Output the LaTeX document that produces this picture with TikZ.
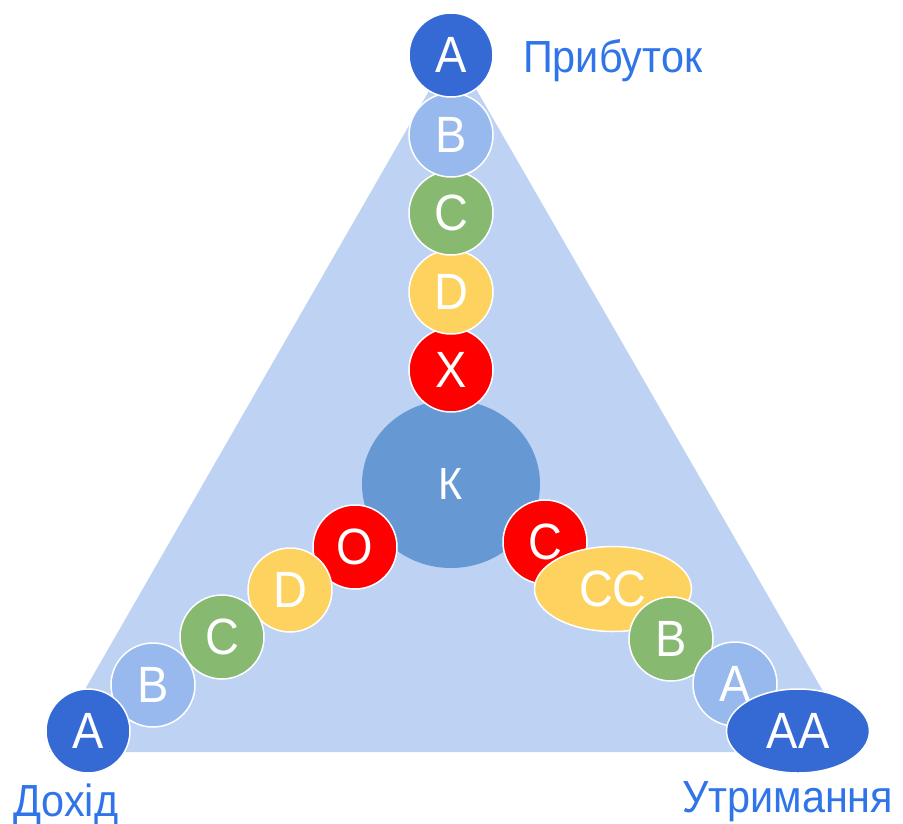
\documentclass[tikz,border=0pt]{standalone}
\usepackage{fontspec}
\setmainfont{Liberation Sans}
\newfontfamily\narrowsans[FakeStretch=0.92]{Liberation Sans}
\usetikzlibrary{shapes.geometric}

\definecolor{trifill}{HTML}{BED2F3}
\definecolor{corecol}{HTML}{6699D4}
\definecolor{darkblue}{HTML}{356AD5}
\definecolor{lightblue}{HTML}{98B9EE}
\definecolor{greenball}{HTML}{87B971}
\definecolor{yellowball}{HTML}{FED25F}
\definecolor{redball}{HTML}{FF0000}
\definecolor{labelblue}{HTML}{2F74E8}

\begin{document}
\begin{tikzpicture}[x=1pt,y=-1pt,
  ball/.style={circle, draw=white, line width=1.5pt, minimum size=84pt,
    inner sep=0pt, text=white, font=\narrowsans\fontsize{51}{51}\selectfont},
  oval/.style={ball, ellipse},
  corner/.style={text=labelblue, font=\narrowsans\fontsize{45}{45}\selectfont,
    inner sep=0pt, anchor=base west}]
\useasboundingbox (0,0) rectangle (903,823);

% background triangle
\coordinate (apex) at (453,49);
\coordinate (bl) at (49,752);
\coordinate (br) at (858,752);
\fill[trifill] (apex) -- (bl) -- (br) -- cycle;

% core
\node[ellipse, fill=corecol, minimum width=178pt, minimum height=168pt,
  inner sep=0pt, text=white, font=\narrowsans\fontsize{45}{45}\selectfont] (k) at (451,484) {К};

% upper branch
\node[ball, fill=redball]    (tx) at (451,370) {X};
\node[ball, fill=yellowball] (td) at (451,292) {D};
\node[ball, fill=greenball]  (tc) at (451,213) {C};
\node[ball, fill=lightblue]  (tb) at (451,135) {B};
\node[ball, fill=darkblue]   (ta) at (451,55)  {A};

% left branch
\node[ball, fill=redball]    (lo) at (355,547) {O};
\node[ball, fill=yellowball] (ld) at (290,590) {D};
\node[ball, fill=greenball]  (lc) at (222,637) {C};
\node[ball, fill=lightblue]  (lb) at (153,685) {B};
\node[ball, fill=darkblue]   (la) at (88,731)  {A};

% right branch
\node[ball, fill=redball]    (rc)  at (545,542) {C};
\node[oval, fill=yellowball, minimum width=157pt, minimum height=85pt] (rcc) at (613,589) {CC};
\node[ball, fill=greenball]  (rb)  at (671,639) {B};
\node[ball, fill=lightblue]  (ra)  at (735,684) {A};
\node[oval, fill=darkblue, minimum width=143pt, minimum height=84pt] (raa) at (798,731) {AA};

% corner labels
\node[corner] (profit) at (523,72)  {Прибуток};
\node[corner] (income) at (13,816)  {Дохід};
\node[corner] (upkeep) at (682,812) {Утримання};
\end{tikzpicture}
\end{document}
